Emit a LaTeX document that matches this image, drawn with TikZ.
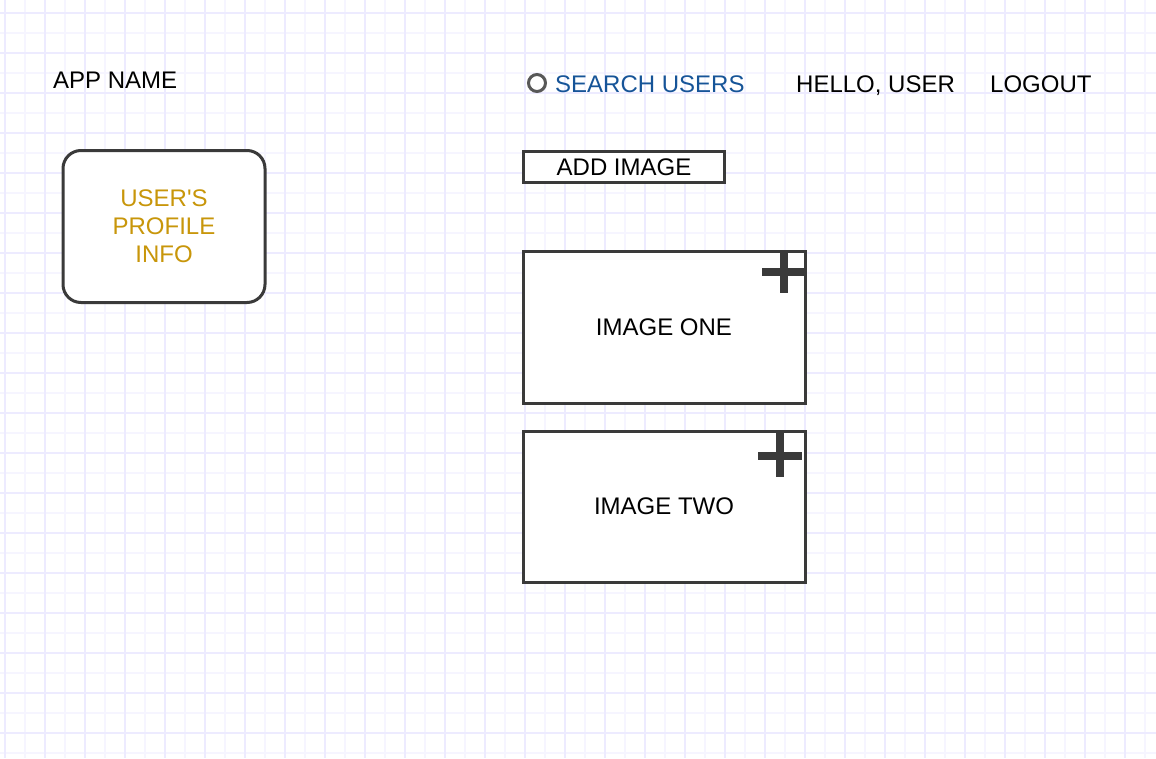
\documentclass[tikz,border=0pt]{standalone}
\usepackage{fontspec}
\setmainfont{Liberation Sans}
\definecolor{gridminor}{RGB}{246,245,255}
\definecolor{gridmajor}{RGB}{237,235,255}
\definecolor{boxline}{RGB}{58,58,58}
\definecolor{linkblue}{RGB}{22,84,152}
\definecolor{profilegold}{RGB}{200,150,10}
\tikzset{
  label/.style={font=\fontsize{24}{28}\selectfont,inner sep=0pt,anchor=base west},
  panel/.style={draw=boxline,line width=3pt,fill=white,font=\fontsize{24}{28}\selectfont,inner sep=0pt},
  plusbar/.style={draw=boxline,line width=8pt}
}
\begin{document}
\begin{tikzpicture}[x=1pt,y=-1pt]
\useasboundingbox[fill=white] (0,0) rectangle (1156,758);
% grid
\foreach \x in {25,65,...,1145} \draw[gridminor,line width=1.6pt] (\x,0) -- (\x,758);
\foreach \y in {33,73,...,753} \draw[gridminor,line width=1.6pt] (0,\y) -- (1156,\y);
\foreach \x in {5,45,...,1125} \draw[gridmajor,line width=1.8pt] (\x,0) -- (\x,758);
\foreach \y in {13,53,...,733} \draw[gridmajor,line width=1.8pt] (0,\y) -- (1156,\y);
% header
\node[label] (appname) at (53,88) {APP NAME};
\node[draw=boxline!85,line width=3pt,circle,minimum size=17pt,inner sep=0pt] (searchicon) at (537,83) {};
\node[label,text=linkblue] (search) at (555,92) {SEARCH USERS};
\node[label] (hello) at (796,92) {HELLO, USER};
\node[label] (logout) at (990,92) {LOGOUT};
% profile
\node[panel,rounded corners=18pt,minimum width=202pt,minimum height=152pt,align=center,text=profilegold] (profile) at (164,226.5) {USER\textquotesingle S\\PROFILE\\INFO};
% images
\node[panel,minimum width=201pt,minimum height=31pt] (addimage) at (624,167) {ADD IMAGE};
\node[panel,minimum width=282pt,minimum height=152pt] (imageone) at (664,327) {IMAGE ONE};
\node[panel,minimum width=282pt,minimum height=151pt] (imagetwo) at (664,506.5) {IMAGE TWO};
\draw[plusbar] (762,272) -- (805,272);
\draw[plusbar] (784,251) -- (784,293);
\draw[plusbar] (758,456) -- (802,456);
\draw[plusbar] (780,432) -- (780,477);
\end{tikzpicture}
\end{document}
